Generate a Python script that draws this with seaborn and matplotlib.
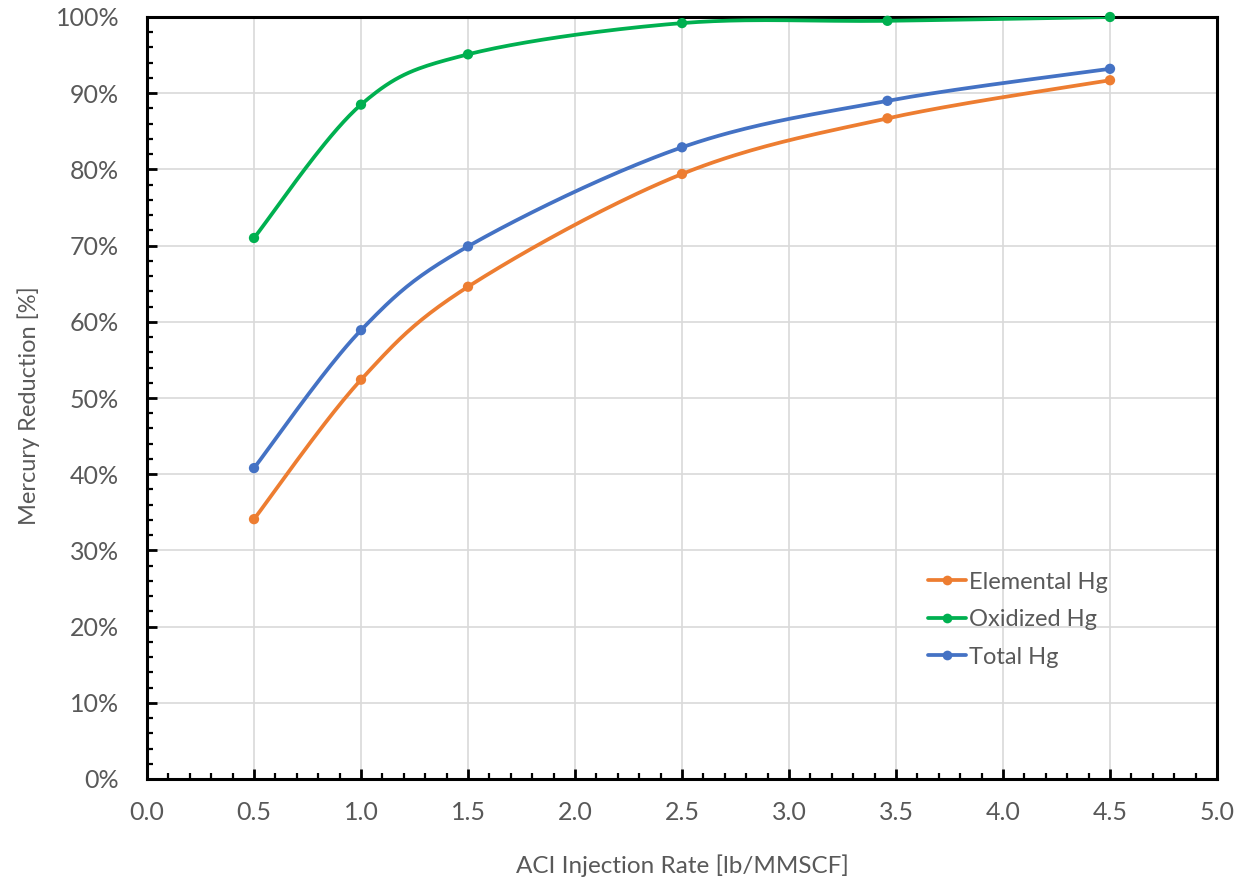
import numpy as np
import pandas as pd
import matplotlib
matplotlib.use("Agg")
import matplotlib.pyplot as plt
from matplotlib.lines import Line2D
from matplotlib.ticker import MultipleLocator, PercentFormatter
import seaborn as sns

# ---- data ----
injection_rate = [0.5, 1.0, 1.5, 2.5, 3.46, 4.5]
elemental_hg = [34.1, 52.4, 64.6, 79.4, 86.7, 91.7]
oxidized_hg = [71.0, 88.5, 95.1, 99.2, 99.5, 100.0]
total_hg = [40.8, 58.9, 69.9, 82.9, 89.0, 93.2]
series_names = ["Elemental Hg", "Oxidized Hg", "Total Hg"]
series_colors = ["#ED7D31", "#00B050", "#4472C4"]

sns.set_theme(style="white")
plt.rcParams['font.family'] = ['Lato', 'DejaVu Sans']

fig = plt.figure(figsize=(12.43, 8.83), dpi=100)
ax = fig.add_axes([147/1243, 1-779/883, (1217-147)/1243, (779-17)/883])

def smooth(xs, ys, sx=214.0, sy=7.62, n=40):
    # Excel-like Catmull-Rom Bezier smoothing, computed in screen-like scale
    P = np.column_stack([np.asarray(xs) * sx, np.asarray(ys) * sy])
    Pe = np.vstack([P[0], P, P[-1]])
    out = []
    t = np.linspace(0, 1, n)[:, None]
    for i in range(len(P) - 1):
        p0, p3 = Pe[i + 1], Pe[i + 2]
        c1 = p0 + (Pe[i + 2] - Pe[i]) / 6.0
        c2 = p3 - (Pe[i + 3] - Pe[i + 1]) / 6.0
        seg = ((1 - t) ** 3) * p0 + 3 * ((1 - t) ** 2) * t * c1 + 3 * (1 - t) * t ** 2 * c2 + t ** 3 * p3
        out.append(seg if i == 0 else seg[1:])
    C = np.vstack(out)
    return C[:, 0] / sx, C[:, 1] / sy

handles = []
for name, vals, col in zip(series_names, [elemental_hg, oxidized_hg, total_hg], series_colors):
    cx, cy = smooth(injection_rate, vals)
    curve = pd.DataFrame({"x": cx, "y": cy})
    sns.lineplot(data=curve, x="x", y="y", sort=False, color=col, linewidth=2.7,
                 ax=ax, estimator=None, zorder=3)
    pts = pd.DataFrame({"x": injection_rate, "y": vals})
    sns.scatterplot(data=pts, x="x", y="y", color=col, s=55, edgecolor="none",
                    ax=ax, zorder=4, clip_on=False)
    handles.append(Line2D([0], [0], color=col, lw=2.7, marker="o", markersize=7,
                          markeredgewidth=0))

ax.set_xlim(0, 5)
ax.set_ylim(0, 100)
ax.xaxis.set_major_locator(MultipleLocator(0.5))
ax.xaxis.set_minor_locator(MultipleLocator(0.1))
ax.yaxis.set_major_locator(MultipleLocator(10))
ax.yaxis.set_minor_locator(MultipleLocator(2))
ax.yaxis.set_major_formatter(PercentFormatter(decimals=0))
ax.xaxis.set_major_formatter(matplotlib.ticker.FormatStrFormatter("%.1f"))

ax.grid(True, which="major", color="#D9D9D9", linewidth=1.2, zorder=0)
ax.set_axisbelow(True)
for s in ax.spines.values():
    s.set_visible(True)
    s.set_color("black")
    s.set_linewidth(2.2)

ax.tick_params(which="major", direction="in", length=7, width=2, color="black",
               labelsize=18, labelcolor="#595959",
               bottom=True, left=True, top=False, right=False)
ax.tick_params(axis="x", which="major", pad=16)
ax.tick_params(axis="y", which="major", pad=20)
ax.tick_params(which="minor", direction="in", length=4, width=1.6, color="black",
               bottom=True, left=True, top=False, right=False)

ax.set_xlabel("ACI Injection Rate [lb/MMSCF]", fontsize=17.5, color="#595959", labelpad=22)
ax.set_ylabel("Mercury Reduction [%]", fontsize=17, color="#595959", labelpad=9)
ax.yaxis.set_label_coords(-0.1, 0.49)

leg = ax.legend(handles, series_names, loc="upper left", bbox_to_anchor=(0.71, 0.3),
                frameon=False, fontsize=17, labelcolor="#595959", handlelength=1.6,
                handletextpad=0.15, labelspacing=0.7)

fig.savefig("out.png", dpi=100)
